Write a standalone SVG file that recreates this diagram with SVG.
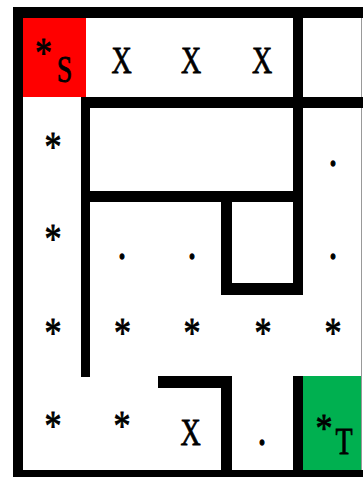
<svg xmlns="http://www.w3.org/2000/svg" width="363" height="477" viewBox="0 0 363 477">
<style>
.w{fill:#000}
.t{font-family:"Liberation Serif","Times New Roman",serif;font-size:28px;fill:#000;stroke:#000;stroke-width:0.6;text-anchor:middle}
.a{font-family:"Liberation Serif","Times New Roman",serif;font-size:34px;fill:#000;stroke:#000;stroke-width:0.7;text-anchor:middle}
.d{font-family:"Liberation Serif","Times New Roman",serif;font-size:34px;fill:#000;stroke:#000;stroke-width:1;text-anchor:middle}
</style>
<rect width="363" height="477" fill="#fff"/>
<g id="cells">
<rect id="start" x="23" y="18" width="63" height="79" fill="#ff0000"/>
<rect id="target" x="303" y="376" width="58" height="94" fill="#00b050"/>
</g>
<g id="walls">
<rect class="w" x="13" y="7" width="350" height="11"/>
<rect class="w" x="13" y="7" width="10" height="470"/>
<rect class="w" x="13" y="470" width="350" height="7"/>
<line x1="361.5" y1="18" x2="361.5" y2="470" stroke="#999" stroke-width="1"/>
<rect class="w" x="81" y="97" width="9" height="280"/>
<rect class="w" x="81" y="97" width="282" height="11"/>
<rect class="w" x="293" y="7" width="10" height="288"/>
<rect class="w" x="81" y="191" width="222" height="11"/>
<rect class="w" x="221" y="191" width="11" height="104"/>
<rect class="w" x="221" y="283" width="82" height="12"/>
<rect class="w" x="158" y="376" width="74" height="12"/>
<rect class="w" x="221" y="376" width="11" height="94"/>
<rect class="w" x="293" y="376" width="10" height="94"/>
</g>
<g id="labels">
<g id="r1">
<text class="a" transform="translate(43.5,67) scale(1,1.25)">*</text>
<text class="t" transform="translate(64.5,82) scale(1,1.35)">S</text>
<text class="t" transform="translate(121.5,73) scale(1,1.35)">X</text>
<text class="t" transform="translate(191,73) scale(1,1.35)">X</text>
<text class="t" transform="translate(262,73) scale(1,1.35)">X</text>
</g>
<g id="r2">
<text class="a" transform="translate(53,161) scale(1,1.25)">*</text>
<text class="d" transform="translate(333,166) scale(1,1.25)">.</text>
</g>
<g id="r3">
<text class="a" transform="translate(53,253) scale(1,1.25)">*</text>
<text class="d" transform="translate(122,259) scale(1,1.25)">.</text>
<text class="d" transform="translate(192,259) scale(1,1.25)">.</text>
<text class="d" transform="translate(333,259) scale(1,1.25)">.</text>
</g>
<g id="r4">
<text class="a" transform="translate(53,347) scale(1,1.25)">*</text>
<text class="a" transform="translate(122.5,347) scale(1,1.25)">*</text>
<text class="a" transform="translate(192,347) scale(1,1.25)">*</text>
<text class="a" transform="translate(263,347) scale(1,1.25)">*</text>
<text class="a" transform="translate(333,347) scale(1,1.25)">*</text>
</g>
<g id="r5">
<text class="a" transform="translate(53,440) scale(1,1.25)">*</text>
<text class="a" transform="translate(122,440) scale(1,1.25)">*</text>
<text class="t" transform="translate(190.5,445) scale(1,1.35)">X</text>
<text class="d" transform="translate(262,445) scale(1,1.25)">.</text>
<text class="a" transform="translate(324,441) scale(1,1.2)">*</text>
<text class="t" transform="translate(344,454) scale(1,1.35)">T</text>
</g>
</g>
</svg>
